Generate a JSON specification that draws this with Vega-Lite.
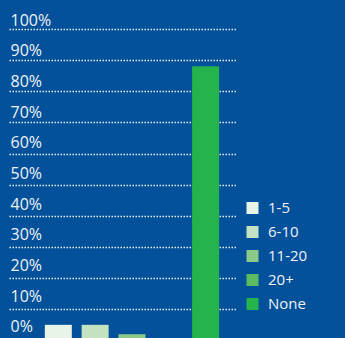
{
  "$schema": "https://vega.github.io/schema/vega-lite/v6.json",
  "autosize": {"type": "none"},
  "width": 228,
  "height": 311.4,
  "padding": {"left": 9, "top": 29, "right": 108, "bottom": 0},
  "background": "#02519a",
  "config": {
    "view": {"stroke": null},
    "font": "Open Sans"
  },
  "data": {
    "values": [
      {"group": "1-5", "share": 0.05},
      {"group": "6-10", "share": 0.05},
      {"group": "11-20", "share": 0.02},
      {"group": "20+", "share": 0.0},
      {"group": "None", "share": 0.88}
    ]
  },
  "layer": [
    {
      "mark": {"type": "bar"},
      "encoding": {
        "x": {
          "field": "group",
          "type": "nominal",
          "sort": null,
          "axis": null,
          "scale": {"paddingInner": 0.267, "paddingOuter": 0.729, "align": 0.667}
        },
        "y": {
          "field": "share",
          "type": "quantitative",
          "scale": {"domain": [0, 1], "nice": false},
          "axis": {
            "values": [0, 0.1, 0.2, 0.3, 0.4, 0.5, 0.6, 0.7, 0.8, 0.9, 1],
            "title": null,
            "domain": false,
            "ticks": false,
            "labels": false,
            "grid": true,
            "gridColor": "#ffffff",
            "gridOpacity": 0.9,
            "gridWidth": 1.5,
            "gridDash": [1.5, 1.5]
          }
        },
        "color": {
          "field": "group",
          "type": "nominal",
          "scale": {
            "domain": ["1-5", "6-10", "11-20", "20+", "None"],
            "range": ["#e9f4e8", "#c3e3c0", "#8dca88", "#5dbb62", "#25b34b"]
          },
          "legend": {
            "title": null,
            "orient": "none",
            "legendX": 236,
            "legendY": 171.5,
            "padding": 0,
            "symbolType": "square",
            "symbolSize": 144,
            "symbolStrokeWidth": 0,
            "symbolOpacity": 1,
            "labelFont": "Open Sans",
            "labelFontSize": 15,
            "labelColor": "#eef2f7",
            "labelOffset": 8,
            "rowPadding": 8
          }
        }
      }
    },
    {
      "mark": {"type": "point", "opacity": 0},
      "encoding": {
        "y": {
          "field": "share",
          "type": "quantitative",
          "scale": {"domain": [0, 1], "nice": false, "zero": false, "range": [302.8, -3.7]},
          "axis": {
            "orient": "right",
            "values": [0, 0.1, 0.2, 0.3, 0.4, 0.5, 0.6, 0.7, 0.8, 0.9, 1],
            "format": ".0%",
            "title": null,
            "domain": false,
            "ticks": false,
            "tickSize": 0,
            "grid": false,
            "labelPadding": -227,
            "labelAlign": "left",
            "labelBaseline": "alphabetic",
            "labelOffset": 0,
            "labelFlush": false,
            "labelOverlap": false,
            "labelBound": false,
            "labelFont": "Open Sans",
            "labelFontSize": 16,
            "labelColor": "#eef2f7"
          }
        }
      }
    }
  ],
  "resolve": {"scale": {"y": "independent"}}
}
